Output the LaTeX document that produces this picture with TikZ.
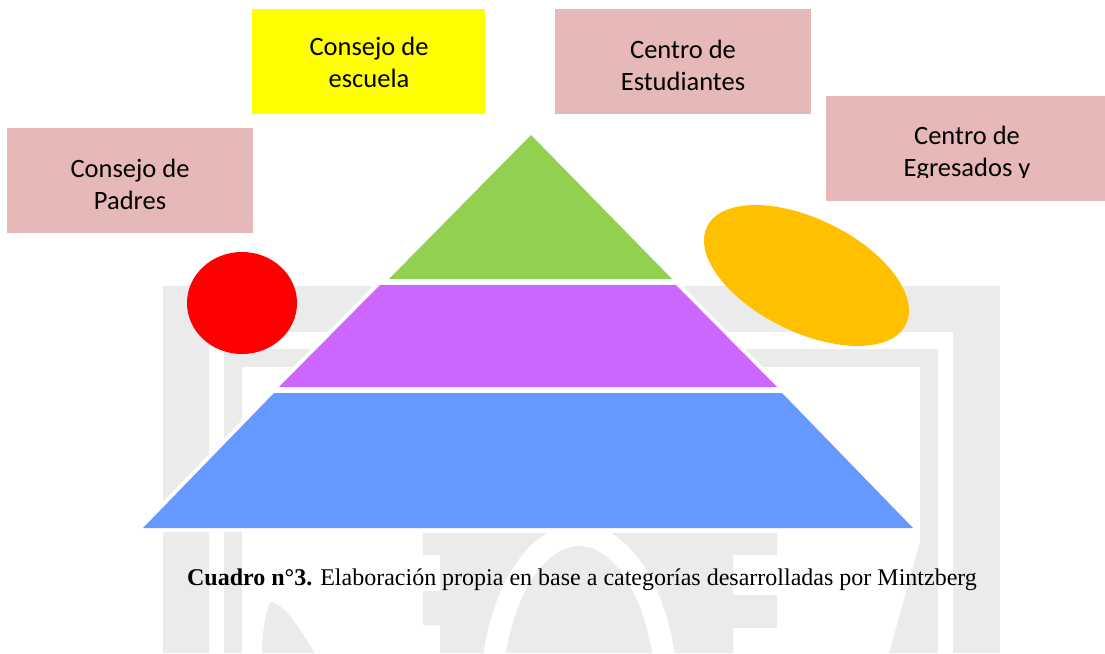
\documentclass[tikz,border=0pt]{standalone}
\usepackage{fontspec}
\newfontfamily\boxfont{Carlito}
\newfontfamily\capfont{Liberation Serif}
\definecolor{pinkbox}{RGB}{230,184,183}
\definecolor{yelbox}{RGB}{255,255,0}
\definecolor{pgreen}{RGB}{146,208,80}
\definecolor{ppurple}{RGB}{204,102,255}
\definecolor{pblue}{RGB}{102,153,255}
\definecolor{cred}{RGB}{255,0,0}
\definecolor{corange}{RGB}{255,192,0}
\definecolor{wm}{RGB}{235,235,235}
\begin{document}
\begin{tikzpicture}[x=1pt,y=-1pt,
  box/.style={rectangle, inner sep=0pt, outer sep=0pt, anchor=north west, draw=none},
  lbl/.style={anchor=base, inner sep=0pt, font=\boxfont\fontsize{26.5}{32.5}\selectfont},
  gap/.style={draw=white, fill=white, line width=8pt, line join=round}]
\useasboundingbox (0,0) rectangle (1105,653);
\fill[white] (0,0) rectangle (1105,653);

% faint watermark
\fill[wm] (163,286) rectangle (1000,653);
\fill[white] (209,332) rectangle (953,653);
\fill[wm] (224,349) rectangle (938,653);
\fill[white] (242,367) rectangle (920,653);
\fill[wm] (423,533) -- (423,555) -- (440,555) -- (440,591) -- (423,591) -- (423,625)
  -- (440,625) -- (440,653) -- (733,653) -- (733,628) -- (777,628) -- (777,595)
  -- (733,595) -- (733,555) -- (777,555) -- (777,533) -- cycle;
\draw[white, line width=22pt] (579,700) ellipse [x radius=88pt, y radius=165pt];
\fill[wm] (270,602) .. controls (285,603) and (300,630) .. (315,653) -- (262,653)
  .. controls (262,635) and (265,615) .. (270,602) -- cycle;
\fill[wm] (921,538) -- (921,653) -- (889,653) -- cycle;

% pyramid
\path[gap] (389,279) -- (672,279) -- (531,135) -- cycle;
\path[gap] (380,285) -- (676,285) -- (777,387) -- (279,387) -- cycle;
\path[gap] (274,393) -- (782,393) -- (913,528) -- (143,528) -- cycle;
\fill[pgreen] (389,279) -- (672,279) -- (531,135) -- cycle;
\fill[ppurple] (380,285) -- (676,285) -- (777,387) -- (279,387) -- cycle;
\fill[pblue] (274,393) -- (782,393) -- (913,528) -- (143,528) -- cycle;

% circle and ellipse
\fill[cred] (242,303) ellipse [x radius=55pt, y radius=51pt];
\fill[corange, rotate around={-26.2:(806.5,275.5)}] (806.5,275.5) ellipse [x radius=110.8pt, y radius=56.5pt];

% boxes
\node[box, fill=yelbox, minimum width=233pt, minimum height=105pt] (escuelabox) at (252,9) {};
\node[box, fill=pinkbox, minimum width=256pt, minimum height=105pt] (estudbox) at (555,9) {};
\node[box, fill=pinkbox, minimum width=246pt, minimum height=105pt] (padresbox) at (7,128) {};
\node[box, fill=pinkbox, minimum width=279pt, minimum height=105pt] (egresbox) at (826,96) {};

\node[lbl] (escuelatext) at (369,55) {\begin{tabular}[t]{@{}c@{}}Consejo de\\escuela\end{tabular}};
\node[lbl] (estudtext) at (683,58) {\begin{tabular}[t]{@{}c@{}}Centro de\\Estudiantes\end{tabular}};
\node[lbl] (padrestext) at (130,177) {\begin{tabular}[t]{@{}c@{}}Consejo de\\Padres\end{tabular}};
\begin{scope}
\clip (826,96) rectangle (1105,177);
\node[lbl] (egrestext) at (967,144) {\begin{tabular}[t]{@{}c@{}}Centro de\\Egresados y\end{tabular}};
\end{scope}

% caption
\node[anchor=base, inner sep=0pt, font=\capfont\fontsize{24}{28}\selectfont] (caption) at (582,585)
  {\textbf{Cuadro n°3.} Elaboración propia en base a categorías desarrolladas por Mintzberg};
\end{tikzpicture}
\end{document}
